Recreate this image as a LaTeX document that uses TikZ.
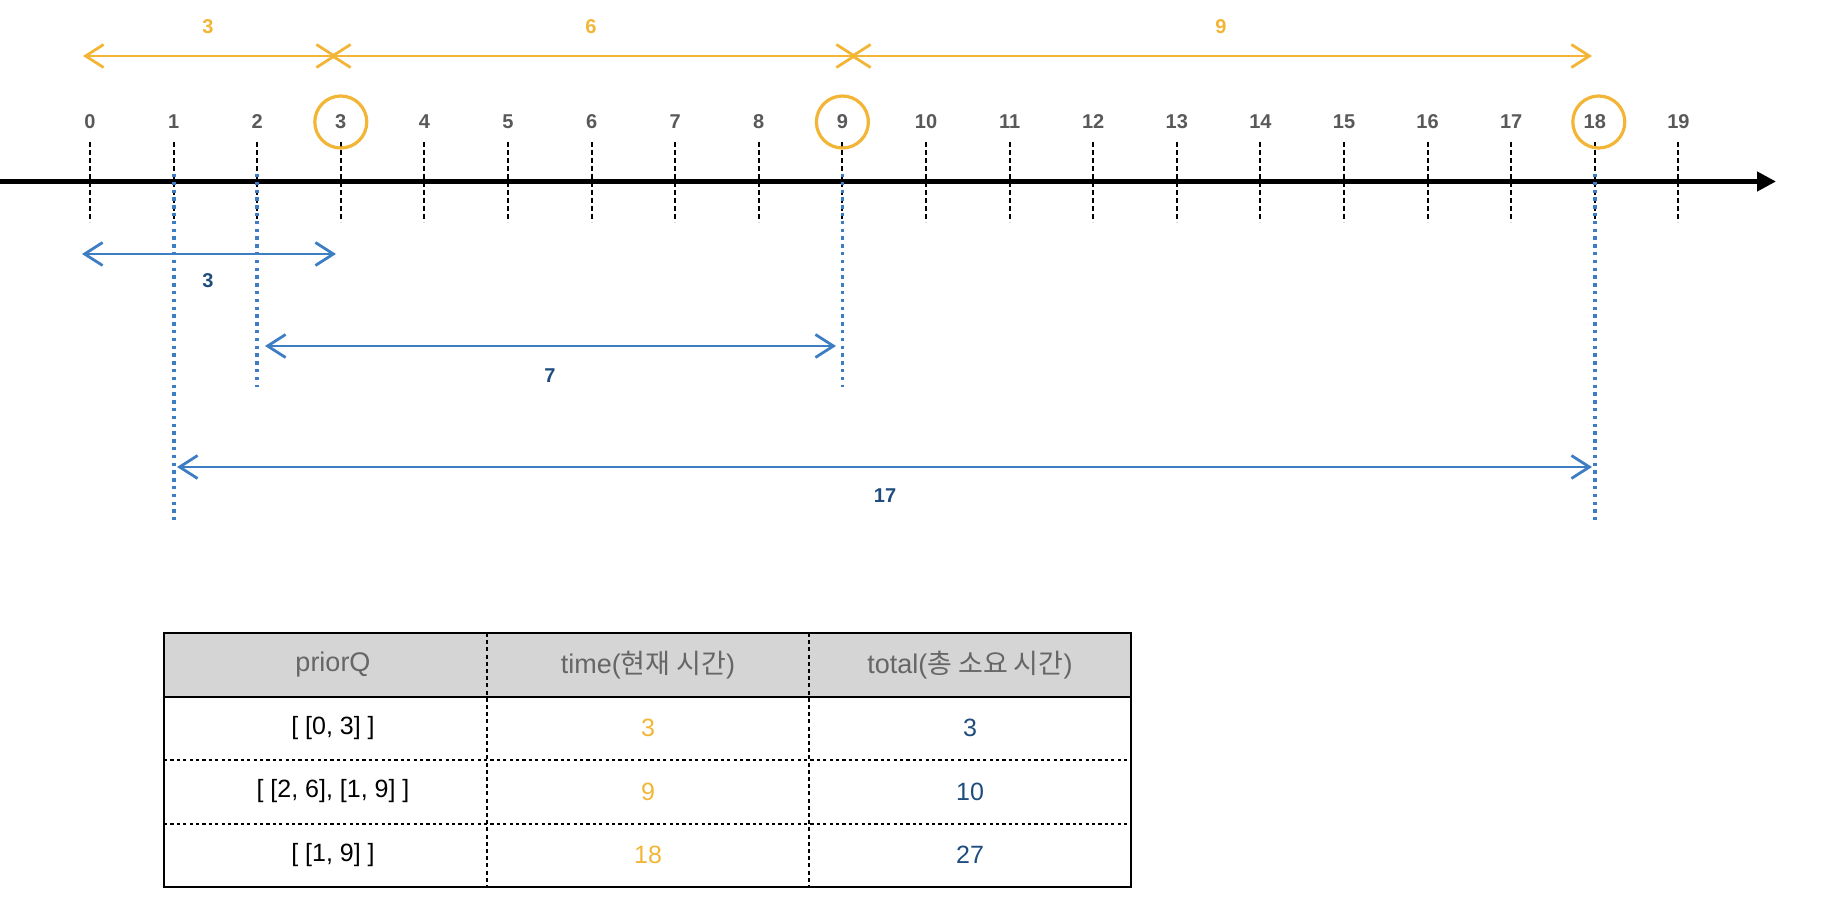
\documentclass[tikz,border=0pt]{standalone}
\usepackage{fontspec}
\setmainfont{Liberation Sans}
\newfontfamily\kr{Noto Sans CJK KR}
\usetikzlibrary{arrows.meta,calc}

\definecolor{vang}{HTML}{F2B535}
\definecolor{xanh}{HTML}{3C7DC4}
\definecolor{xanhdam}{HTML}{1F4C7E}
\definecolor{xamchu}{HTML}{595959}
\definecolor{xamtieude}{HTML}{666666}
\definecolor{xamnen}{HTML}{D5D5D5}

\begin{document}
\begin{tikzpicture}[x=0.5pt, y=-0.5pt,
    so/.style={font=\fontsize{10}{12}\selectfont\bfseries, inner sep=0pt},
    moc/.style={dash pattern=on 2.4pt off 1.6pt, line width=1pt},
    vach/.style={xanh, dash pattern=on 1.7pt off 2.2pt, line width=1.9pt},
    muiten/.style={<->, line width=1.4pt, >={Straight Barb[length=9pt,width=11.5pt]}},
    o/.style={font=\fontsize{12.5}{15}\selectfont, inner sep=0pt},
    tieude/.style={font=\fontsize{13.5}{16}\selectfont, text=xamtieude, inner sep=0pt}]
    \useasboundingbox (0,0) rectangle (1822,904);
    % Trục thời gian
    \coordinate (goc) at (0,181.5);
    \coordinate (dau) at (1776,181.5);
    \draw[line width=2.2pt, -{Triangle[length=9.5pt,width=9.5pt]}] (goc) -- (dau);
    % Các mốc 0..19
    \foreach \i in {0,...,19} {
        \coordinate (m\i) at ({90+83.6*\i},142);
        \coordinate (n\i) at ({90+83.6*\i},222);
        \node[so, text=xamchu] (s\i) at ({90+83.6*\i},122) {\i};
        \draw[moc] (m\i) -- (n\i);
    }
    % Vòng tròn đánh dấu
    \draw[vang, line width=1.6pt] (s3) circle (13pt);
    \draw[vang, line width=1.6pt] (s9) circle (13pt);
    \draw[vang, line width=1.6pt] ([xshift=2pt]s18) circle (13pt);
    % Mũi tên vàng (time)
    \coordinate (v1a) at (83,56);  \coordinate (v1b) at (337,56);
    \coordinate (v2a) at (330,56); \coordinate (v2b) at (857,56);
    \coordinate (v3a) at (850,56); \coordinate (v3b) at (1592,56);
    \draw[muiten, vang] (v1a) -- (v1b);
    \draw[muiten, vang] (v2a) -- (v2b);
    \draw[muiten, vang] (v3a) -- (v3b);
    \node[so, text=vang] (vt1) at (208,27) {3};
    \node[so, text=vang] (vt2) at (591,27) {6};
    \node[so, text=vang] (vt3) at (1221,27) {9};
    % Đường gióng xanh
    \coordinate (g1a) at (173.6,174);  \coordinate (g1b) at (173.6,520);
    \coordinate (g2a) at (257.2,174);  \coordinate (g2b) at (257.2,387);
    \coordinate (g9a) at (842.4,174);  \coordinate (g9b) at (842.4,387);
    \coordinate (g18a) at (1594.8,174); \coordinate (g18b) at (1594.8,520);
    \draw[vach] (g1a) -- (g1b);
    \draw[vach] (g2a) -- (g2b);
    \draw[vach] (g9a) -- (g9b);
    \draw[vach] (g18a) -- (g18b);
    % Mũi tên xanh (total)
    \coordinate (x1a) at (82,254);  \coordinate (x1b) at (336,254);
    \coordinate (x2a) at (265,346); \coordinate (x2b) at (836,346);
    \coordinate (x3a) at (177,467); \coordinate (x3b) at (1592,467);
    \draw[muiten, xanh] (x1a) -- (x1b);
    \draw[muiten, xanh] (x2a) -- (x2b);
    \draw[muiten, xanh] (x3a) -- (x3b);
    \node[so, text=xanhdam] (xt1) at (208,281) {3};
    \node[so, text=xanhdam] (xt2) at (550,376) {7};
    \node[so, text=xanhdam] (xt3) at (885,496) {17};
    % Bảng
    \fill[xamnen] (164,633) rectangle (1131,697);
    \draw[moc, dash pattern=on 1.6pt off 1.6pt] (164,760) -- (1131,760);
    \draw[moc, dash pattern=on 1.6pt off 1.6pt] (164,823.5) -- (1131,823.5);
    \draw[moc, dash pattern=on 2pt off 1.6pt] (487,633) -- (487,887);
    \draw[moc, dash pattern=on 2pt off 1.6pt] (809,633) -- (809,887);
    \draw[line width=1pt] (164,697) -- (1131,697);
    \draw[line width=1pt] (164,633) rectangle (1131,887);
    \node[tieude] (h1) at (333,665) {priorQ};
    \node[tieude] (h2) at (648,665) {time({\kr 현재 시간})};
    \node[tieude] (h3) at (970,665) {total({\kr 총 소요 시간})};
    \node[o] (a1) at (333,728) {[ [0, 3] ]};
    \node[o, text=vang] (a2) at (648,728) {3};
    \node[o, text=xanhdam] (a3) at (970,728) {3};
    \node[o] (b1) at (333,791.5) {[ [2, 6], [1, 9] ]};
    \node[o, text=vang] (b2) at (648,791.5) {9};
    \node[o, text=xanhdam] (b3) at (970,791.5) {10};
    \node[o] (c1) at (333,855) {[ [1, 9] ]};
    \node[o, text=vang] (c2) at (648,855) {18};
    \node[o, text=xanhdam] (c3) at (970,855) {27};
\end{tikzpicture}
\end{document}
